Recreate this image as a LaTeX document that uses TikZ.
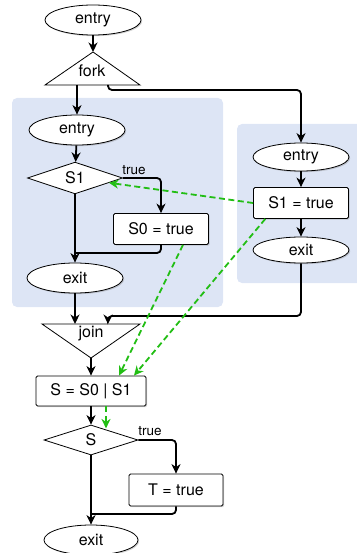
\documentclass[tikz,border=0pt]{standalone}
\usepackage{fontspec}
\setmainfont{TeX Gyre Heros}
\usetikzlibrary{calc, shapes.geometric, arrows.meta, shadows}
\definecolor{panelblue}{RGB}{221,229,245}
\definecolor{depgreen}{RGB}{34,190,20}

\begin{document}
\begin{tikzpicture}[x=1pt, y=-1pt,
        every node/.style={font=\fontsize{16}{18}\selectfont, inner sep=0pt},
        shade/.style={drop shadow={shadow xshift=1.2pt, shadow yshift=-1.2pt, opacity=.35}},
        term/.style={ellipse, draw, line width=0.8pt, fill=white, minimum width=96pt, minimum height=30pt, shade},
        cond/.style={diamond, draw, line width=0.8pt, fill=white, minimum width=95pt, minimum height=30pt},
        box/.style={rectangle, draw, line width=0.8pt, fill=white, rounded corners=1.5pt, minimum width=95pt, minimum height=31pt, shade},
        tri/.style={draw, line width=0.8pt, fill=white},
        flow/.style={line width=1.8pt, rounded corners=4pt, -{Stealth[length=9.5pt, width=9pt, inset=3pt]}},
        flowline/.style={line width=1.8pt, rounded corners=4pt},
        dep/.style={line width=1.8pt, draw=depgreen, dash pattern=on 6pt off 3.5pt, -{Stealth[length=9.5pt, width=9pt, inset=3pt, fill=depgreen]}},
        panel/.style={fill=panelblue, rounded corners=5pt},
        small/.style={font=\fontsize{13.5}{15}\selectfont}]
        \useasboundingbox (0,0) rectangle (356,553);

        \fill[panel] (12,98) rectangle (223,307);
        \fill[panel] (237,124) rectangle (366,283);

        \coordinate (forkT) at (93,52);
        \coordinate (forkL) at (77,85);
        \coordinate (forkR) at (108,85);
        \coordinate (joinL) at (75,324);
        \coordinate (joinR) at (108,324);
        \coordinate (joinB) at (91,358);
        \coordinate (mergeA) at (75,253);
        \coordinate (mergeB) at (91,514);

        \draw[tri] (forkT) -- (140,85) -- (45,85) -- cycle;
        \draw[tri] (42,324) -- (140,324) -- (joinB) -- cycle;

        \node[term] (entryA) at (93,20) {entry};
        \node at (92,71) (fork) {fork};
        \node[term] (entryB) at (77,130) {entry};
        \node[cond] (condA) at (75,178) {S1};
        \node[box] (setS0) at (161,229) {S0 = true};
        \node[term] (exitB) at (75,278) {exit};
        \node[term, minimum height=28pt] (entryC) at (301,157) {entry};
        \node[box] (setS1) at (301,203) {S1 = true};
        \node[term, minimum height=26pt] (exitC) at (301,250) {exit};
        \node at (91,334) (join) {join};
        \node[box, minimum width=110pt, minimum height=30pt] (merge) at (91,391) {S = S0 | S1};
        \node[cond, minimum width=94pt] (condS) at (91,440) {S};
        \node[box, minimum width=94pt, minimum height=32pt] (setT) at (176,490) {T = true};
        \node[term, minimum width=94pt] (exitA) at (91,540) {exit};

        \node[small] (trueA) at (134,170) {true};
        \node[small] (trueS) at (150,431) {true};

        \draw[flow] (entryA) -- (forkT);
        \draw[flow] (forkL) -- (entryB);
        \draw[flow] (forkR) -- ++(0,5) -| (entryC);
        \draw[flow] (entryB) -- (condA);
        \draw[flow] (condA) -| (setS0);
        \draw[flow] (condA) -- (exitB);
        \draw[flowline] (setS0) |- (mergeA);
        \draw[flow] (exitB) -- (joinL);
        \draw[flow] (entryC) -- (setS1);
        \draw[flow] (setS1) -- (exitC);
        \draw[flow] (exitC) |- ($(joinR)+(0,-8)$) -- (joinR);
        \draw[flow] (joinB) -- (merge);
        \draw[flow] (merge) -- (condS);
        \draw[flow] (condS) -| (setT);
        \draw[flow] (condS) -- (exitA);
        \draw[flowline] (setT) |- (mergeB);

        \draw[dep] (setS1.west) -- (condA);
        \draw[dep] (setS1.204) -- ($(merge.north)+(43,0)$);
        \draw[dep] ($(setS0.south)+(22,0)$) -- ($(merge.north)+(28,0)$);
        \draw[dep] ($(merge.south)+(15,0)$) -- ++(0,22);
    \end{tikzpicture}
\end{document}
